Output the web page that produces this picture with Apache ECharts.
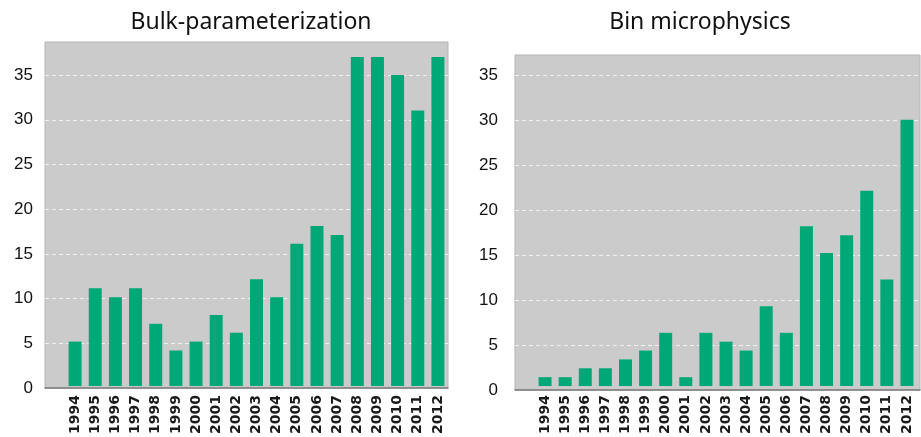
<!DOCTYPE html>
<html>
<head>
<meta charset="utf-8">
<script src="https://cdn.jsdelivr.net/npm/echarts@6/dist/echarts.min.js"></script>
<style>html,body{margin:0;padding:0;background:#fff;}#c{width:921px;height:437px;}</style>
</head>
<body>
<div id="c"></div>
<script>
const years = ['1994','1995','1996','1997','1998','1999','2000','2001','2002','2003','2004','2005','2006','2007','2008','2009','2010','2011','2012'];
const bulkValues = [5, 11, 10, 11, 7, 4, 5, 8, 6, 12, 10, 16, 18, 17, 37, 37, 35, 31, 37];
const binValues = [1, 1, 2, 2, 3, 4, 6, 1, 6, 5, 4, 9, 6, 18, 15, 17, 22, 12, 30];
const titles = ['Bulk-parameterization', 'Bin microphysics'];

const leftMax = 38.7, rightMax = 37.3;
const barColor = '#00a878';
const yLabel = {fontFamily:'Liberation Sans', fontSize:17, color:'#111',
  formatter: v => (Math.abs(v % 5) < 1e-6 ? String(v) : '')};
const xLabel = {rotate:90, fontFamily:'DejaVu Sans', fontWeight:'bold', fontSize:14, color:'#1a1a1a', interval:0};

function bgAxes(gi, max, labelMargin){
  return {
    x: {type:'value', gridIndex:gi, min:0, max:1, show:true,
        axisLine:{show:true, onZero:false, lineStyle:{color:'#7a7a7a', width:1.5}},
        axisTick:{show:false}, axisLabel:{show:false}, splitLine:{show:false}},
    y: {type:'value', gridIndex:gi, min:0, max:max, interval:5,
        axisLine:{show:false}, axisTick:{show:false},
        axisLabel:Object.assign({margin:labelMargin}, yLabel),
        splitLine:{show:true, showMinLine:false, showMaxLine:false,
                   lineStyle:{color:'#f0f0f0', type:[4,3], width:1}}}
  };
}
function barAxes(gi, max){
  return {
    x: {type:'category', gridIndex:gi, data:years, boundaryGap:true,
        axisLine:{show:false}, axisTick:{show:false},
        axisLabel:Object.assign({margin:9}, xLabel)},
    y: {type:'value', gridIndex:gi, min:0, max:max, show:false, splitLine:{show:false}}
  };
}
const a0 = bgAxes(0, leftMax, 12), a1 = barAxes(1, leftMax);
const a2 = bgAxes(2, rightMax, 17), a3 = barAxes(3, rightMax);

const chart = echarts.init(document.getElementById('c'), null, {renderer:'canvas'});
chart.setOption({
  animation:false,
  backgroundColor:'#ffffff',
  title:[
    {text:titles[0], left:246, top:6, textAlign:'center',
     textStyle:{fontFamily:'Noto Sans', fontWeight:'normal', fontSize:23, color:'#111'}},
    {text:titles[1], left:695, top:6, textAlign:'center',
     textStyle:{fontFamily:'Noto Sans', fontWeight:'normal', fontSize:23, color:'#111'}}
  ],
  grid:[
    {left:45, right:473, top:42, bottom:49, show:true, backgroundColor:'#cbcbcb', borderColor:'#b5b5b5', borderWidth:1},
    {left:65, right:473, top:42, bottom:49},
    {left:515, right:1, top:55, bottom:47, show:true, backgroundColor:'#cbcbcb', borderColor:'#b5b5b5', borderWidth:1},
    {left:535, right:4, top:55, bottom:47}
  ],
  xAxis:[a0.x, a1.x, a2.x, a3.x],
  yAxis:[a0.y, a1.y, a2.y, a3.y],
  series:[
    {type:'bar', xAxisIndex:1, yAxisIndex:1, data:bulkValues, barWidth:13, itemStyle:{color:barColor}},
    {type:'bar', xAxisIndex:3, yAxisIndex:3, data:binValues, barWidth:13, itemStyle:{color:barColor}}
  ]
});
</script>
</body>
</html>
